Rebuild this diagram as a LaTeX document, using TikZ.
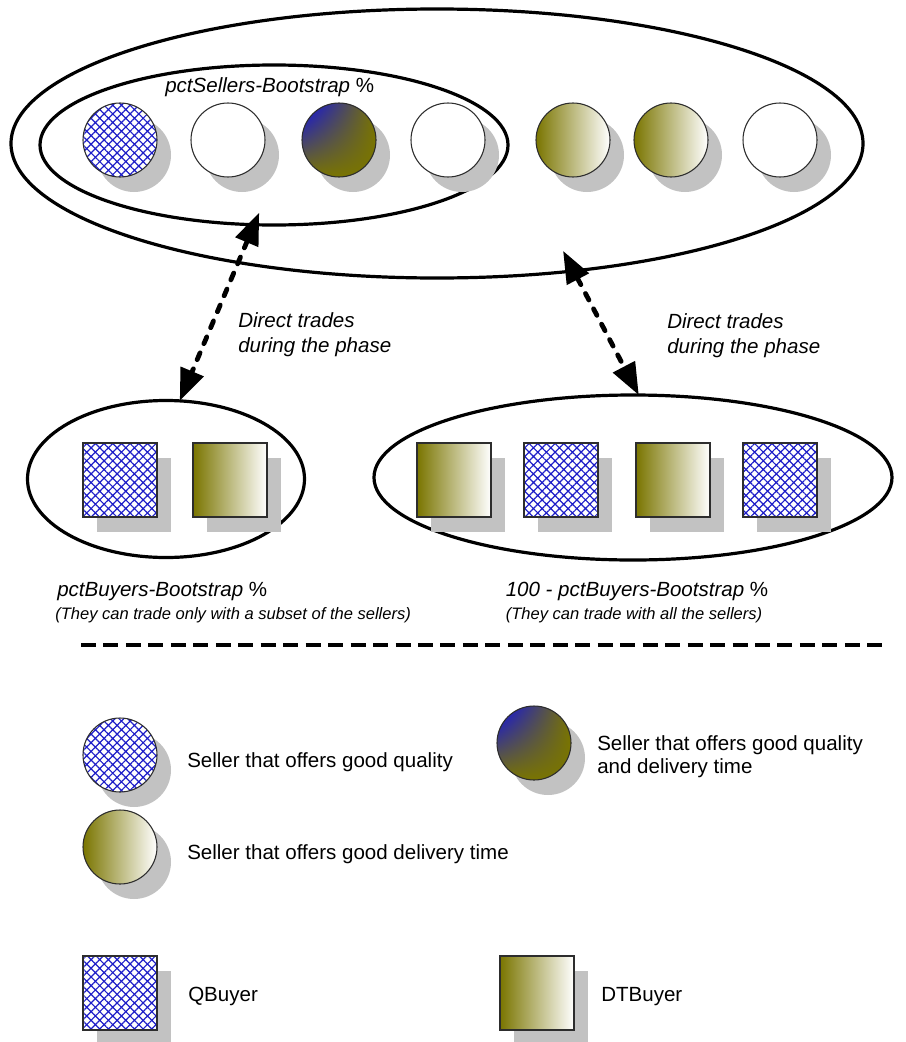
\documentclass[tikz,border=0pt]{standalone}
\usepackage{fontspec}
\setmainfont{Liberation Sans}
\usetikzlibrary{shapes.geometric,arrows.meta,patterns.meta,shadows,shadings}
\newdimen\pxu \pxu=0.75pt
\definecolor{olivec}{RGB}{122,117,0}
\definecolor{hatchblue}{RGB}{30,30,200}
\definecolor{sblue}{RGB}{10,10,235}
\definecolor{shadowgray}{RGB}{194,194,194}
\definecolor{edgegray}{RGB}{45,45,45}
\tikzset{
  shad/.style={drop shadow={shadow xshift=10.5pt, shadow yshift=-11.25pt, fill=shadowgray, opacity=1}},
  seller/.style={circle, minimum size=74\pxu, inner sep=0pt, outer sep=0pt, draw=edgegray, line width=0.8pt, shad},
  sellerempty/.style={seller, fill=white},
  sellerq/.style={seller, preaction={fill=white}, pattern={Hatch[angle=45,distance=4.6pt,line width=0.9pt]}, pattern color=hatchblue},
  sellerdt/.style={seller, left color=olivec, right color=white},
  sellerqdt/.style={seller, upper left=sblue, upper right=olivec, lower left=olivec, lower right=olivec},
  buyer/.style={rectangle, minimum size=74\pxu, inner sep=0pt, outer sep=0pt, draw=edgegray, line width=0.8pt, shad},
  buyerq/.style={buyer, preaction={fill=white}, pattern={Hatch[angle=45,distance=4.6pt,line width=0.9pt]}, pattern color=hatchblue},
  buyerdt/.style={buyer, left color=olivec, right color=white},
  region/.style={ellipse, draw=black, line width=2.4pt, inner sep=0pt, outer sep=0pt},
  trade/.style={line width=3.6pt, dash pattern=on 5.5pt off 7.5pt, line cap=round,
    {Triangle[length=24pt,width=18pt]}-{Triangle[length=24pt,width=18pt]}},
  lbl/.style={inner sep=0pt, font=\fontsize{15.4pt}{18.75pt}\selectfont},
  sublbl/.style={inner sep=0pt, font=\fontsize{12.4pt}{15pt}\selectfont\itshape},
  sepline/.style={line width=2.4pt, dash pattern=on 11.25pt off 5.6pt}
}
\begin{document}
\begin{tikzpicture}[x=0.75pt,y=-0.75pt]
\useasboundingbox (0,0) rectangle (906,1042);
\clip (0,0) rectangle (906,1042);

% region ellipses
\node[region, minimum width=852\pxu, minimum height=269\pxu] (outer) at (437,143.5) {};
\node[region, minimum width=468\pxu, minimum height=160\pxu] (inner) at (274,145) {};
\node[region, minimum width=277\pxu, minimum height=157\pxu] (lb) at (166,479) {};
\node[region, minimum width=518\pxu, minimum height=165\pxu] (rb) at (633,477.5) {};

% sellers
\node[sellerq] (s1) at (120,140) {};
\node[sellerempty] (s2) at (228,140) {};
\node[sellerqdt] (s3) at (339,140) {};
\node[sellerempty] (s4) at (448,140) {};
\node[sellerdt] (s5) at (573,140) {};
\node[sellerdt] (s6) at (671,140) {};
\node[sellerempty] (s7) at (780,140) {};

\node[lbl, anchor=base west] (tS) at (165,92) {\textit{pctSellers-Bootstrap} \%};

% buyers
\node[buyerq] (b1) at (120,480) {};
\node[buyerdt] (b2) at (230,480) {};
\node[buyerdt] (b3) at (454,480) {};
\node[buyerq] (b4) at (561,480) {};
\node[buyerdt] (b5) at (673,480) {};
\node[buyerq] (b6) at (780,480) {};

% trade arrows
\draw[trade, shorten <=-13\pxu] (inner.256.5) -- (lb.80);
\draw[trade, shorten <=-22.6\pxu] (outer.-43.2) -- (rb.86.5);

\node[lbl, font=\fontsize{15.4pt}{18.75pt}\selectfont\itshape, anchor=north west, align=left] (d1) at (238,312) {Direct trades\\during the phase};
\node[lbl, font=\fontsize{15.4pt}{18.75pt}\selectfont\itshape, anchor=north west, align=left] (d2) at (667,313) {Direct trades\\during the phase};

\node[lbl, anchor=base west] (bl1) at (57,596) {\textit{pctBuyers-Bootstrap} \%};
\node[sublbl, anchor=base west] (bl2) at (55,619) {(They can trade only with a subset of the sellers)};
\node[lbl, anchor=base] (br1) at (637,596) {\textit{100 - pctBuyers-Bootstrap} \%};
\node[sublbl, anchor=base] (br2) at (634,619) {(They can trade with all the sellers)};

% separator
\coordinate (sepA) at (81,645);
\coordinate (sepB) at (885,645);
\draw[sepline] (sepA) -- (sepB);

% legend
\node[sellerq] (lq) at (120,755) {};
\node[lbl, anchor=base west] (lqt) at (187,767) {Seller that offers good quality};
\node[sellerqdt] (lqdt) at (534,743) {};
\node[lbl, font=\fontsize{15.4pt}{17.5pt}\selectfont, anchor=north west, align=left] (lqdtt) at (597,735) {Seller that offers good quality\\and delivery time};
\node[sellerdt] (ldt) at (120,847) {};
\node[lbl, anchor=base west] (ldtt) at (187,859) {Seller that offers good delivery time};

\node[buyerq] (lbq) at (120,993) {};
\node[lbl, anchor=base west] (lbqt) at (188,1001) {QBuyer};
\node[buyerdt] (lbdt) at (537,993) {};
\node[lbl, anchor=base west] (lbdtt) at (601,1001) {DTBuyer};
\end{tikzpicture}
\end{document}
